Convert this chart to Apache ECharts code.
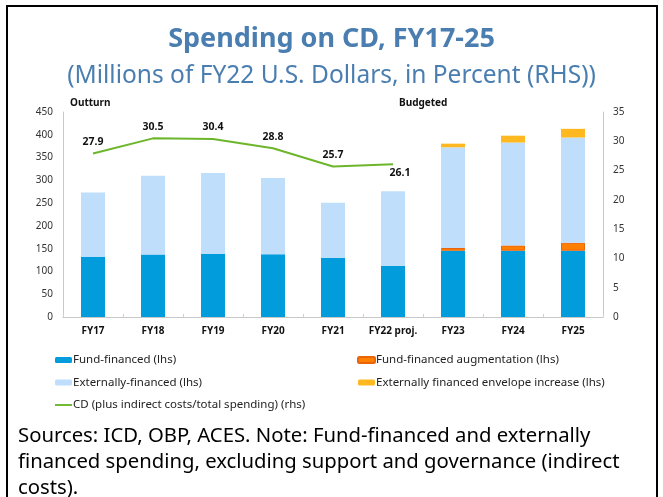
<!DOCTYPE html>
<html>
<head>
<meta charset="utf-8">
<script src="https://cdn.jsdelivr.net/npm/echarts@6/dist/echarts.min.js"></script>
<style>
	html, body { margin: 0; padding: 0; background: #fff; }
	#chart { width: 663px; height: 497px; }
</style>
</head>
<body>
<div id="chart"></div>
<script>
	// categories and values
	const years = ['FY17', 'FY18', 'FY19', 'FY20', 'FY21', 'FY22 proj.', 'FY23', 'FY24', 'FY25']
	const fundFinanced = [131.5, 137, 139, 138, 130, 112.5, 145.5, 145.5, 145.5]
	const fundAugmentation = [null, null, null, null, null, null, 6, 11.5, 17.5]
	const externallyFinanced = [142, 173, 177, 167, 121, 163.5, 221, 226, 231]
	const envelopeIncrease = [null, null, null, null, null, null, 8, 15, 19]
	const cdShare = [27.9, 30.5, 30.4, 28.8, 25.7, 26.1, null, null, null]

	const font = 'Noto Sans'
	const lineName = 'CD (plus indirect costs/total spending) (rhs)'
	const mycharts = echarts.init(document.getElementById('chart'))
	mycharts.setOption({
		animation: false,
		textStyle: { fontFamily: font },
		title: [
			{
				text: 'Spending on CD, FY17-25',
				left: 'center',
				top: 21,
				textStyle: { color: '#4a7eb0', fontSize: 27, fontWeight: 'bold', fontFamily: font },
			},
			{
				text: '(Millions of FY22 U.S. Dollars, in Percent (RHS))',
				left: 'center',
				top: 59,
				textStyle: { color: '#4a7eb0', fontSize: 24.5, fontWeight: 'normal', fontFamily: font },
			},
		],
		grid: {
			left: 63,
			right: 60,
			top: 112,
			bottom: 180,
		},
		legend: [
			{
				orient: 'vertical',
				left: 55,
				top: 354,
				padding: 0,
				itemWidth: 17,
				itemHeight: 6,
				itemGap: 10.5,
				textStyle: { fontSize: 11.5, color: '#222', padding: [0, 0, 0, -4] },
				data: [
					'Fund-financed (lhs)',
					'Externally-financed (lhs)',
					{ name: lineName, icon: 'path://M0,0 L18,0 L18,2 L0,2 Z' },
				],
			},
			{
				orient: 'vertical',
				left: 357,
				top: 354,
				padding: 0,
				itemWidth: 17,
				itemHeight: 6,
				itemGap: 10.5,
				textStyle: { fontSize: 11.5, color: '#222', padding: [0, 0, 0, -4] },
				data: ['Fund-financed augmentation (lhs)', 'Externally financed envelope increase (lhs)'],
			},
		],
		xAxis: {
			type: 'category',
			data: years,
			axisLine: { lineStyle: { color: '#c8c8c8' } },
			axisTick: { show: true, inside: true, length: 3, lineStyle: { color: '#d0d0d0' } },
			axisLabel: { color: '#111', fontSize: 10, fontWeight: 'bold', margin: 9, interval: 0 },
		},
		yAxis: [
			{
				type: 'value',
				min: 0,
				max: 450,
				interval: 50,
				splitLine: { show: false },
				axisLine: { show: true, lineStyle: { color: '#c8c8c8' } },
				axisTick: { show: false },
				axisLabel: { color: '#333', fontSize: 10, margin: 10 },
			},
			{
				type: 'value',
				min: 0,
				max: 35,
				interval: 5,
				position: 'right',
				splitLine: { show: false },
				axisLine: { show: true, lineStyle: { color: '#c8c8c8' } },
				axisTick: { show: false },
				axisLabel: { color: '#333', fontSize: 10, margin: 10 },
			},
		],
		series: [
			{
				name: 'Fund-financed (lhs)',
				type: 'bar',
				stack: 'spend',
				barWidth: 24,
				data: fundFinanced,
				itemStyle: { color: '#009cdc' },
			},
			{
				name: 'Fund-financed augmentation (lhs)',
				type: 'bar',
				stack: 'spend',
				barWidth: 24,
				data: fundAugmentation,
				itemStyle: { color: '#ff7f00', borderColor: '#e8650a', borderWidth: 1 },
			},
			{
				name: 'Externally-financed (lhs)',
				type: 'bar',
				stack: 'spend',
				barWidth: 24,
				data: externallyFinanced,
				itemStyle: { color: '#bfdefb' },
			},
			{
				name: 'Externally financed envelope increase (lhs)',
				type: 'bar',
				stack: 'spend',
				barWidth: 24,
				data: envelopeIncrease,
				itemStyle: { color: '#ffb81f' },
			},
			{
				name: lineName,
				type: 'line',
				yAxisIndex: 1,
				data: cdShare,
				symbol: 'circle',
				symbolSize: 0,
				showSymbol: true,
				lineStyle: { color: '#6db62b', width: 2 },
				itemStyle: { color: '#6db62b' },
				label: {
					show: true,
					position: 'top',
					distance: 6,
					color: '#111',
					fontSize: 10.5,
					fontWeight: 'bold',
				},
				labelLayout: function (params) {
					if (params.dataIndex === 5) {
						return { dx: 7, dy: 20 }
					}
				},
			},
		],
		graphic: [
			{
				type: 'rect',
				shape: { x: 7, y: 6, width: 650, height: 500 },
				style: { fill: 'none', stroke: '#000', lineWidth: 2 },
			},
			{
				type: 'text',
				left: 70,
				top: 98,
				style: { text: 'Outturn', font: 'bold 10px "Noto Sans"', fill: '#111' },
			},
			{
				type: 'text',
				left: 399,
				top: 98,
				style: { text: 'Budgeted', font: 'bold 10px "Noto Sans"', fill: '#111' },
			},
			{
				type: 'text',
				left: 18,
				top: 423.5,
				style: {
					text: 'Sources: ICD, OBP, ACES. Note: Fund-financed and externally\nfinanced spending, excluding support and governance (indirect\ncosts).',
					font: '20.3px "Noto Sans"',
					lineHeight: 26,
					fill: '#000',
				},
			},
		],
	})
</script>
</body>
</html>
